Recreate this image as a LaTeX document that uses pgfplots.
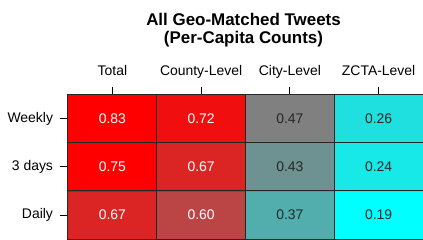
\documentclass[border=0pt]{standalone}
\usepackage{pgfplots}
\pgfplotsset{compat=1.18}
\usepackage{fontspec}
\setmainfont{Liberation Sans}
\begin{document}
\begin{tikzpicture}
\begin{axis}[
  scale only axis, width=355bp, height=144.5bp,
  xmin=-0.5, xmax=3.5, ymin=-0.5, ymax=2.5,
  xtick={0,1,2,3}, xticklabels={Total,County-Level,City-Level,ZCTA-Level},
  ytick={0,1,2}, yticklabels={Daily,3 days,Weekly},
  xtick pos=upper, xticklabel pos=upper, ytick pos=left,
  tick align=outside, major tick length=8bp,
  tick style={black, line width=0.8bp},
  xticklabel style={font=\fontsize{14}{16}\selectfont, anchor=base, yshift=11.5bp},
  yticklabel style={font=\fontsize{14}{16}\selectfont, xshift=-3.5bp},
  colormap={cg}{rgb255(19)=(0,255,255) rgb255(47)=(128,128,128) rgb255(75)=(255,0,0) rgb255(83)=(255,0,0)},
  point meta min=0.19, point meta max=0.83,
  axis on top,
  axis line style={black!85, line width=1bp},
  extra x ticks={0.5,1.5,2.5}, extra y ticks={0.5,1.5},
  extra x tick labels={}, extra y tick labels={},
  extra tick style={grid=major, major tick length=0pt, grid style={black!85, line width=0.9bp}},
  clip=false,
]
\addplot[matrix plot*, mesh/cols=4, point meta=explicit] table[meta=v] {
x y v
0 0 0.67
1 0 0.60
2 0 0.37
3 0 0.19
0 1 0.75
1 1 0.67
2 1 0.43
3 1 0.24
0 2 0.83
1 2 0.72
2 2 0.47
3 2 0.26
};
\addplot[draw=none, nodes near coords, point meta=explicit symbolic,
  every node near coord/.style={anchor=center, text=white, font=\fontsize{14}{16}\selectfont}] table[meta=t] {
x y t
0 0 0.67
1 0 0.60
0 1 0.75
1 1 0.67
0 2 0.83
1 2 0.72
};
\addplot[draw=none, nodes near coords, point meta=explicit symbolic,
  every node near coord/.style={anchor=center, text=black!85, font=\fontsize{14}{16}\selectfont}] table[meta=t] {
x y t
2 0 0.37
3 0 0.19
2 1 0.43
3 1 0.24
2 2 0.47
3 2 0.26
};
\end{axis}
\node[anchor=base, font=\bfseries\fontsize{17}{20}\selectfont] at ([xshift=-2bp,yshift=69.5bp]current axis.north) {All Geo-Matched Tweets};
\node[anchor=base, font=\bfseries\fontsize{17}{20}\selectfont] at ([xshift=-2bp,yshift=51.5bp]current axis.north) {(Per-Capita Counts)};
\pgfresetboundingbox
\path ([xshift=-68bp,yshift=-1bp]current axis.south west) rectangle ([yshift=94.5bp]current axis.north east);
\end{tikzpicture}
\end{document}
